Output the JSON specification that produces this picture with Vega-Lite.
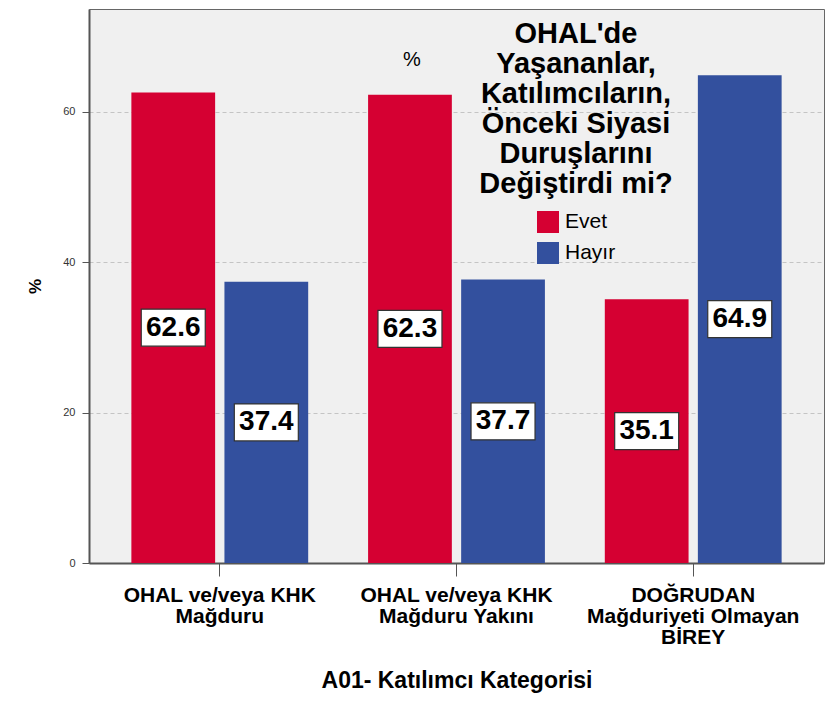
{
  "$schema": "https://vega.github.io/schema/vega-lite/v6.json",
  "width": 735,
  "height": 554,
  "autosize": {"type": "none"},
  "padding": {"left": 89, "top": 9, "right": 2, "bottom": 150},
  "background": "white",
  "title": {"text": "%", "anchor": "start", "dx": 377, "offset": -61, "fontSize": 20, "fontWeight": "normal", "color": "black", "font": "Liberation Sans"},
  "config": {
    "font": "Liberation Sans",
    "view": {"fill": "#f0f0f0", "stroke": "#666666", "strokeWidth": 1}
  },
  "data": {
    "values": [
      {"cat": "OHAL ve/veya KHK Mağduru", "ans": "Evet", "value": 62.6},
      {"cat": "OHAL ve/veya KHK Mağduru", "ans": "Hayır", "value": 37.4},
      {"cat": "OHAL ve/veya KHK Mağduru Yakını", "ans": "Evet", "value": 62.3},
      {"cat": "OHAL ve/veya KHK Mağduru Yakını", "ans": "Hayır", "value": 37.7},
      {"cat": "DOĞRUDAN Mağduriyeti Olmayan BİREY", "ans": "Evet", "value": 35.1},
      {"cat": "DOĞRUDAN Mağduriyeti Olmayan BİREY", "ans": "Hayır", "value": 64.9}
    ]
  },
  "encoding": {
    "x": {
      "field": "cat", "type": "nominal", "sort": null,
      "scale": {"paddingInner": 0.253, "paddingOuter": 0.179},
      "axis": {
        "title": "A01- Katılımcı Kategorisi",
        "titleFontSize": 23, "titleFontWeight": "bold", "titleColor": "black",
        "titleY": 106, "titleBaseline": "top",
        "labelExpr": "datum.value == 'OHAL ve/veya KHK Mağduru' ? ['OHAL ve/veya KHK', 'Mağduru'] : datum.value == 'OHAL ve/veya KHK Mağduru Yakını' ? ['OHAL ve/veya KHK', 'Mağduru Yakını'] : ['DOĞRUDAN', 'Mağduriyeti Olmayan', 'BİREY']",
        "labelAngle": 0, "labelFontSize": 21, "labelFontWeight": "bold", "labelColor": "black",
        "labelLineHeight": 21, "labelPadding": 8, "labelLimit": 400,
        "tickSize": 13, "tickColor": "#555555", "domainColor": "#555555", "domainWidth": 2, "grid": false
      }
    },
    "xOffset": {"field": "ans", "type": "nominal", "sort": ["Evet", "Hayır"], "scale": {"paddingInner": 0.1, "paddingOuter": 0}}
  },
  "layer": [
    {
      "mark": {"type": "bar"},
      "encoding": {
        "y": {
          "field": "value", "type": "quantitative",
          "scale": {"domain": [0, 73.7], "nice": false, "zero": true},
          "axis": {
            "values": [0, 20, 40, 60], "title": "%",
            "titleFontSize": 17, "titleFontWeight": "bold", "titleColor": "black",
            "titleX": -54, "titleY": 277, "titleAngle": -90, "titleBaseline": "middle", "titleAlign": "center",
            "labelFontSize": 11, "labelColor": "#333333", "labelPadding": 7,
            "tickSize": 7, "tickColor": "#555555", "domainColor": "#555555", "domainWidth": 2,
            "grid": true, "gridColor": "#c4c4c4", "gridDash": [4, 3], "gridWidth": 1
          }
        },
        "color": {
          "field": "ans", "type": "nominal",
          "scale": {"domain": ["Evet", "Hayır"], "range": ["#d50032", "#33509e"]},
          "legend": {
            "orient": "none", "legendX": 390, "legendY": 11,
            "title": ["OHAL'de", "Yaşananlar,", "Katılımcıların,", "Önceki Siyasi", "Duruşlarını", "Değiştirdi mi?"],
            "titleFontSize": 29, "titleFontWeight": "bold", "titleColor": "black",
            "titleAlign": "center", "titleAnchor": "middle", "titleLineHeight": 30,
            "titlePadding": 12, "titleLimit": 500,
            "symbolType": "square", "symbolSize": 484, "symbolStrokeWidth": 0, "symbolOpacity": 1,
            "symbolOffset": 0, "labelOffset": 6, "labelFontSize": 21, "labelColor": "black",
            "rowPadding": 9, "padding": 0
          }
        }
      }
    },
    {
      "mark": {"type": "point", "shape": "M-1,-0.578L1,-0.578L1,0.578L-1,0.578Z", "size": 4096, "filled": true, "fill": "white", "stroke": "#333333", "strokeWidth": 1.2, "opacity": 1},
      "encoding": {
        "y": {"field": "value", "type": "quantitative", "scale": {"domain": [0, 147.4], "nice": false, "zero": true}, "axis": null}
      }
    },
    {
      "mark": {"type": "text", "fontSize": 28, "fontWeight": "bold", "color": "black", "baseline": "middle", "align": "center"},
      "encoding": {
        "y": {"field": "value", "type": "quantitative", "scale": {"domain": [0, 147.4], "nice": false, "zero": true}, "axis": null},
        "text": {"field": "value", "type": "quantitative", "format": ".1f"}
      }
    }
  ],
  "resolve": {"scale": {"y": "independent"}}
}
